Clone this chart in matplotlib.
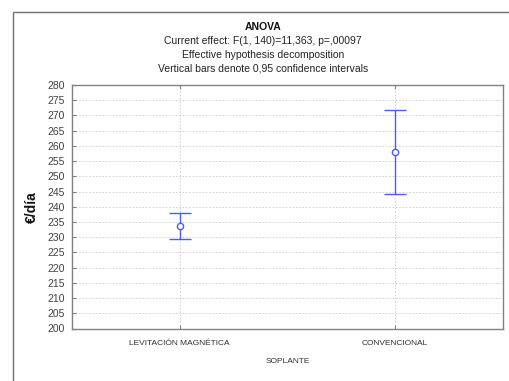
import matplotlib
matplotlib.use("Agg")
import matplotlib.pyplot as plt
from matplotlib.patches import Rectangle
from matplotlib.ticker import MultipleLocator

categories = ["LEVITACIÓN MAGNÉTICA", "CONVENCIONAL"]
means = [233.6, 258.0]
lower = [229.3, 244.2]
upper = [237.8, 271.7]

plt.rcParams['font.family'] = ['Liberation Sans', 'DejaVu Sans']

fig = plt.figure(figsize=(5.10, 3.81), dpi=100)
fig.patches.append(Rectangle((13/510, -0.1), 1.2, (381-12)/381 + 0.1, transform=fig.transFigure,
                             fill=False, edgecolor='#707070', linewidth=1.0))

ax = fig.add_axes([72/510, (381-328.5)/381, (503-72)/510, (328.5-85)/381])
x = list(range(len(categories)))
yerr = [[m - l for m, l in zip(means, lower)], [u - m for m, u in zip(means, upper)]]
ax.errorbar(x, means, yerr=yerr, fmt='o', color='#4a5cf5', ecolor='#4a5cf5',
            markerfacecolor='white', markeredgecolor='#4a5cf5', markersize=4.5,
            markeredgewidth=1.0, elinewidth=1.0, capsize=8, capthick=1.0, zorder=3)

ax.set_xlim(-0.5, 1.5)
ax.set_ylim(200, 280)
ax.yaxis.set_major_locator(MultipleLocator(5))
ax.set_xticks(x)
ax.set_xticklabels(categories, fontsize=6.0, color='#303030')
ax.tick_params(axis='y', labelsize=7.5, labelcolor='#404040', direction='in', length=3, color='#808080', pad=5)
ax.tick_params(axis='x', direction='in', length=3, color='#808080', top=True, pad=8)
ax.grid(True, linestyle=(0, (2, 2)), color='#cccccc', linewidth=0.6)
ax.set_axisbelow(True)
for s in ax.spines.values():
    s.set_color('#808080')
    s.set_linewidth(1.0)

ax.set_xlabel("SOPLANTE", fontsize=6.0, color='#303030', labelpad=8)
ax.set_ylabel("€/día", fontsize=10, fontweight='bold', color='#111111', labelpad=6)

cx = 263/510
fig.text(cx, 1 - 27/381, "ANOVA", ha='center', va='center', fontsize=7.5, fontweight='bold', color='#111111')
fig.text(cx, 1 - 41.5/381, "Current effect: F(1, 140)=11,363, p=,00097", ha='center', va='center', fontsize=7.5, color='#222222')
fig.text(cx, 1 - 55/381, "Effective hypothesis decomposition", ha='center', va='center', fontsize=7.5, color='#222222')
fig.text(cx, 1 - 68.5/381, "Vertical bars denote 0,95 confidence intervals", ha='center', va='center', fontsize=7.5, color='#222222')

fig.savefig("out.png", dpi=100)
